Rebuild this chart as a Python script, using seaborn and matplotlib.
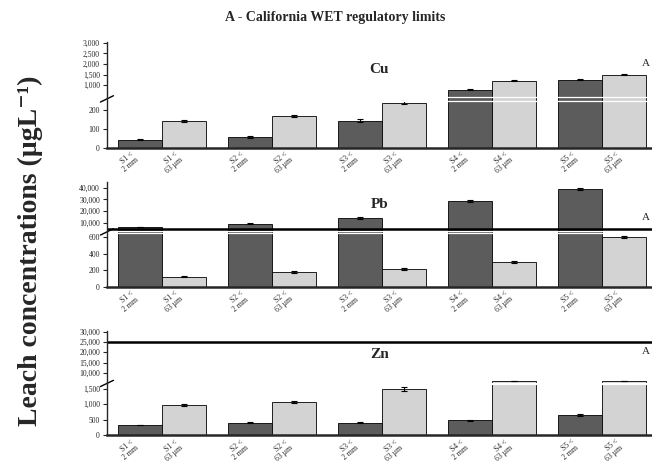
import matplotlib.pyplot as plt
import numpy as np
import pandas as pd
import seaborn as sns

# Data (µg/L)
sites = ["S1", "S2", "S3", "S4", "S5"]
fractions = ["< 2 mm", "< 63 µm"]
bar_labels = ["S1 <\n2 mm", "S1 <\n63 µm", "S2 <\n2 mm", "S2 <\n63 µm", "S3 <\n2 mm",
              "S3 <\n63 µm", "S4 <\n2 mm", "S4 <\n63 µm", "S5 <\n2 mm", "S5 <\n63 µm"]

cu_coarse = [43, 58, 144, 780, 1255]
cu_fine = [144, 170, 240, 1210, 1490]
cu_coarse_err = [3, 4, 8, 25, 30]
cu_fine_err = [4, 5, 9, 25, 25]

pb_coarse = [6400, 9000, 14100, 28700, 39000]
pb_fine = [120, 180, 217, 300, 600]
pb_coarse_err = [300, 400, 500, 700, 800]
pb_fine_err = [6, 8, 10, 10, 15]

zn_coarse = [320, 390, 390, 480, 645]
zn_fine = [970, 1060, 1480, 6000, 6000]
zn_coarse_err = [10, 15, 15, 20, 30]
zn_fine_err = [20, 25, 60, 100, 100]

# WET limits drawn as lines (None = off scale)
limits = {"Cu": None, "Pb": 5000, "Zn": 25000}


def broken_scale(xp, fp):
    # piecewise linear y-scale -> fakes a broken axis
    xp = np.asarray(xp, float)
    fp = np.asarray(fp, float)

    def _map(v, a, b):
        v = np.asarray(v, float)
        out = np.interp(v, a, b)
        out = np.where(v < a[0], b[0] + (v - a[0]) * (b[1] - b[0]) / (a[1] - a[0]), out)
        out = np.where(v > a[-1], b[-1] + (v - a[-1]) * (b[-1] - b[-2]) / (a[-1] - a[-2]), out)
        return out

    return (lambda v: _map(v, xp, fp)), (lambda y: _map(y, fp, xp))


panels = [
    dict(name="Cu", coarse=cu_coarse, fine=cu_fine, err_c=cu_coarse_err, err_f=cu_fine_err,
         xp=[0, 250, 450, 3050], fp=[0, 0.443, 0.481, 1.0],
         ticks=[0, 100, 200, 1000, 1500, 2000, 2500, 3000],
         rect=[0.164, 0.682, 0.836, 0.228], title_y=0.74, a_y=0.80),
    dict(name="Pb", coarse=pb_coarse, fine=pb_fine, err_c=pb_coarse_err, err_f=pb_fine_err,
         xp=[0, 650, 3000, 45000], fp=[0, 0.514, 0.533, 1.0],
         ticks=[0, 200, 400, 600, 10000, 20000, 30000, 40000],
         rect=[0.164, 0.383, 0.836, 0.226], title_y=0.78, a_y=0.66),
    dict(name="Zn", coarse=zn_coarse, fine=zn_fine, err_c=zn_coarse_err, err_f=zn_fine_err,
         xp=[0, 1650, 5000, 30500], fp=[0, 0.49, 0.50, 1.0],
         ticks=[0, 500, 1000, 1500, 10000, 15000, 20000, 25000, 30000],
         rect=[0.164, 0.0645, 0.836, 0.224], title_y=0.77, a_y=0.80),
]

sns.set_theme(style="ticks")
plt.rcParams['font.family'] = ['Liberation Serif', 'DejaVu Serif']

fig = plt.figure(figsize=(6.52, 4.65), dpi=100)

for p in panels:
    ax = fig.add_axes(p["rect"])
    df = pd.DataFrame({
        "site": sites * 2,
        "fraction": [fractions[0]] * 5 + [fractions[1]] * 5,
        "conc": p["coarse"] + p["fine"],
    })
    sns.barplot(data=df, x="site", y="conc", hue="fraction", palette=["#5c5c5c", "#d3d3d3"],
                edgecolor="black", linewidth=0.6, errorbar=None, legend=False, width=0.8, ax=ax)

    ax.set_yscale("function", functions=broken_scale(p["xp"], p["fp"]))
    ax.set_ylim(0, p["xp"][-1])
    ax.set_xlim(-0.5, 4.45)

    # error bars on top of each bar
    bars = sorted(ax.patches, key=lambda b: b.get_x())
    errs = [e for pair in zip(p["err_c"], p["err_f"]) for e in pair]
    cx = [b.get_x() + b.get_width() / 2 for b in bars]
    hh = [b.get_height() for b in bars]
    ax.errorbar(cx, hh, yerr=errs, fmt="none", ecolor="black", elinewidth=0.8, capsize=2, capthick=0.8)

    # break: white gap through bars + mark on axis
    ax.axhline(p["xp"][1], color="white", lw=0.9)
    ax.axhline(p["xp"][2], color="white", lw=0.9)
    fb = (p["fp"][1] + p["fp"][2]) / 2
    ax.plot([-0.012, 0.012], [fb - 0.03, fb + 0.03], transform=ax.transAxes,
            color="black", lw=1.0, clip_on=False)

    if limits[p["name"]] is not None:
        ax.axhline(limits[p["name"]], color="black", lw=1.8)

    ax.set_yticks(p["ticks"])
    ax.set_yticklabels([f"{t:,}" if t >= 1000 else str(t) for t in p["ticks"]], fontsize=5.5)
    ax.yaxis.set_minor_locator(plt.NullLocator())
    ax.tick_params(axis="y", length=3, width=0.8, pad=2)

    ax.set_xticks(cx)
    ax.set_xticklabels(bar_labels, rotation=40, ha="right", fontsize=5.5, linespacing=0.9)
    ax.tick_params(axis="x", length=0, pad=2)

    ax.set_xlabel("")
    ax.set_ylabel("")
    sns.despine(ax=ax)
    ax.spines["bottom"].set_linewidth(1.8)
    ax.spines["left"].set_linewidth(1.0)
    ax.grid(False)

    ax.text(0.5, p["title_y"], p["name"], transform=ax.transAxes, ha="center", va="center",
            fontsize=11, fontweight="bold")
    ax.text(0.997, p["a_y"], "A", transform=ax.transAxes, ha="right", va="center",
            fontsize=8, clip_on=False)

fig.text(0.514, 0.963, "A - California WET regulatory limits", ha="center", va="center",
         fontsize=10, fontweight="bold")
fig.text(0.046, 0.46, "Leach concentrations (µgL⁻¹)", rotation=90, ha="center", va="center",
         fontsize=20, fontweight="bold")

fig.savefig("out.png", dpi=100)
